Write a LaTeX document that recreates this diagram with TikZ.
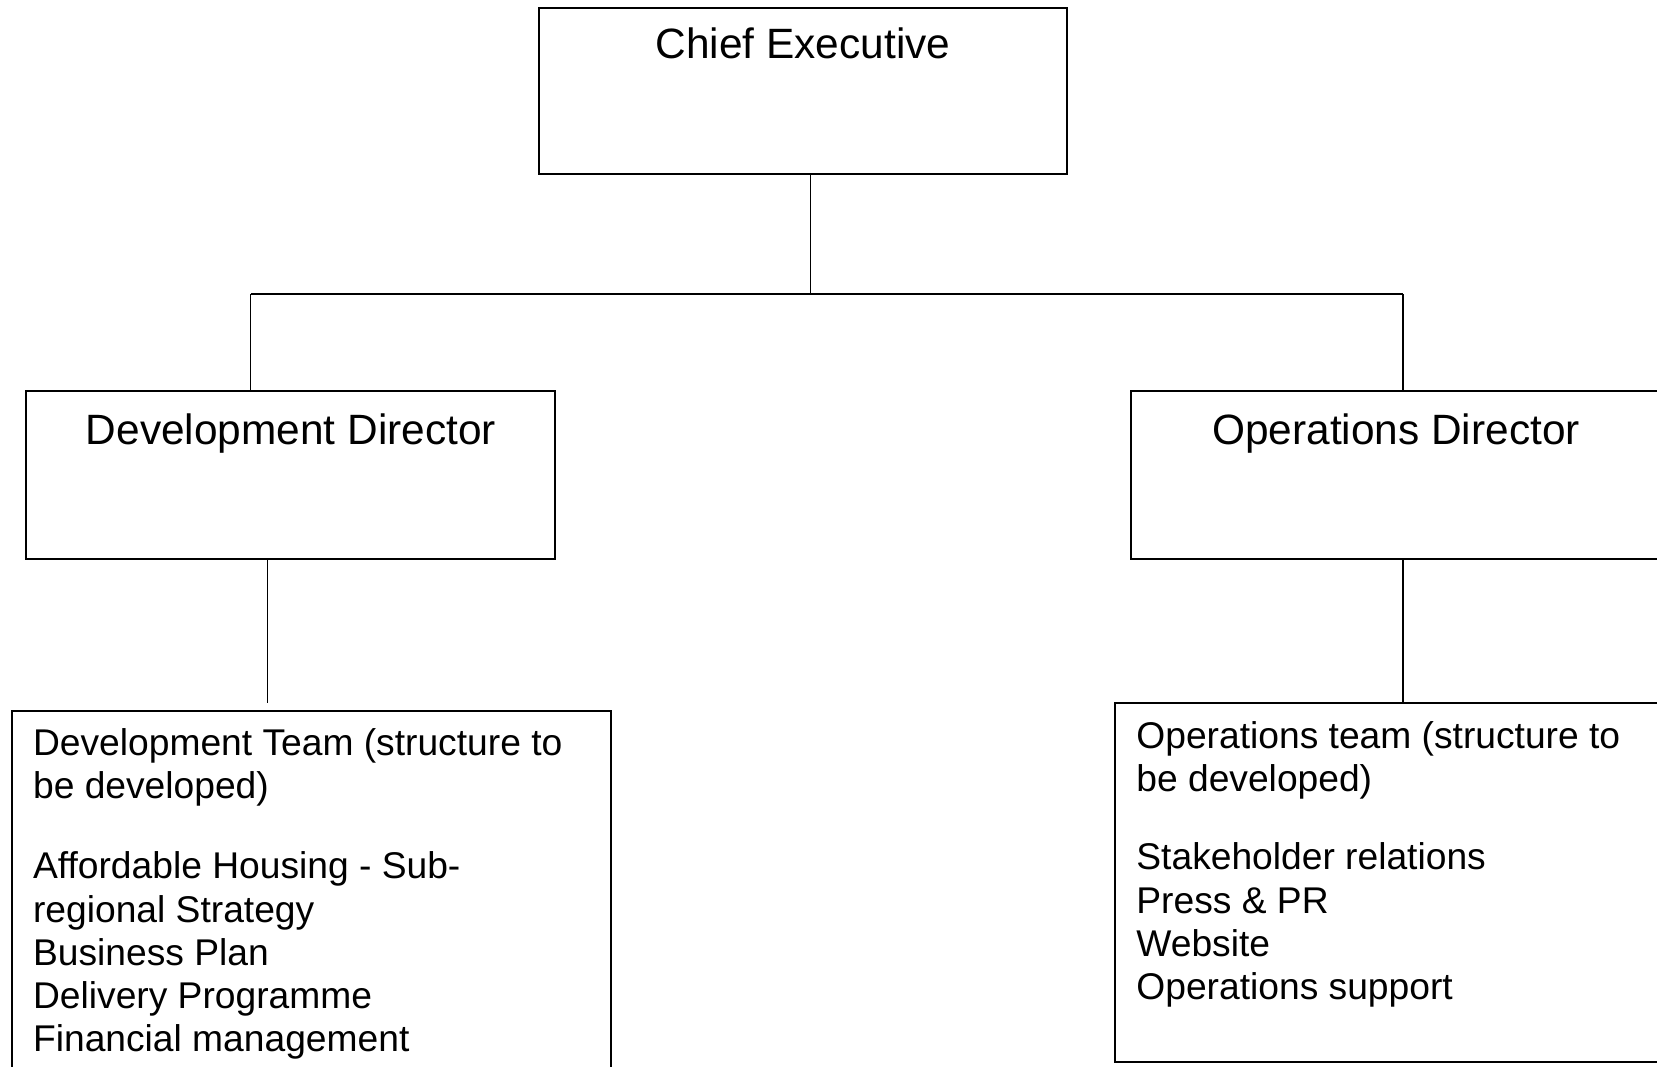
\documentclass[tikz,border=0pt]{standalone}
\usepackage{fontspec}
\setmainfont{Liberation Sans}
\begin{document}
\begin{tikzpicture}[x=0.5pt,y=-0.5pt,
  box/.style={draw=black,line width=1pt,rectangle,inner sep=0pt,outer sep=0pt,anchor=north west},
  conn/.style={draw=black,line width=0.8pt},
  title/.style={font=\fontsize{21.2}{24}\selectfont,anchor=base,inner sep=0pt},
  body/.style={font=\fontsize{18.6}{21.65}\selectfont,align=left,anchor=north west,inner sep=0pt}]
\useasboundingbox (0,0) rectangle (1657,1066);
\clip (0,0) rectangle (1657,1066);
% boxes
\node[box,minimum width=264pt,minimum height=83pt] (chief) at (539,8) {};
\node[box,minimum width=264.5pt,minimum height=84pt] (dev) at (26,391) {};
\node[box,minimum width=265pt,minimum height=84pt] (ops) at (1131,391) {};
\node[box,minimum width=299.75pt,minimum height=200pt] (devteam) at (11.5,711) {};
\node[box,minimum width=300pt,minimum height=179.5pt] (opsteam) at (1115,703) {};
% titles
\node[title] (chieft) at (803,58) {Chief Executive};
\node[title] (devt) at (291,444) {Development Director};
\node[title] (opst) at (1396,444) {Operations Director};
% body texts
\node[body] (devtext) at (32.7,715) {\rule{0pt}{20pt}Development Team (structure to\\be developed)\\[18.35pt]Affordable Housing - Sub-\\regional Strategy\\Business Plan\\Delivery Programme\\Financial management};
\node[body] (opstext) at (1136,708) {\rule{0pt}{20pt}Operations team (structure to\\be developed)\\[17.35pt]Stakeholder relations\\Press \& PR\\Website\\Operations support};
% connectors
\coordinate (bus) at (810.6,294);
\coordinate (busL) at (250.5,294);
\coordinate (busR) at (1403,294);
\coordinate (devstem) at (267.4,703);
\draw[conn] (chief.south -| bus) -- (bus);
\draw[conn] (busL) -- (busR);
\draw[conn] (busL) -- (busL |- dev.north);
\draw[conn] (busR) -- (busR |- ops.north);
\draw[conn] (devstem |- dev.south) -- (devstem);
\draw[conn] (busR |- ops.south) -- (busR |- opsteam.north);
\end{tikzpicture}
\end{document}
